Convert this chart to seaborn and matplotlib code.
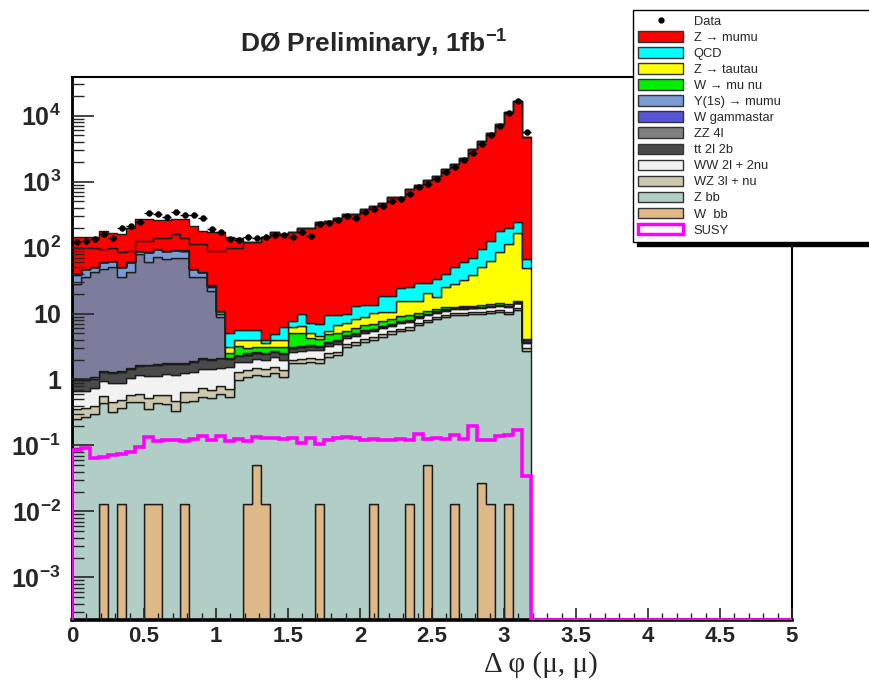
import numpy as np
import pandas as pd
import matplotlib.pyplot as plt
import seaborn as sns
from matplotlib.patches import Patch
from matplotlib.lines import Line2D
from matplotlib.ticker import FixedLocator, MultipleLocator, FuncFormatter, NullFormatter

sns.set_style("ticks")
plt.rcParams['font.family'] = ['Liberation Sans', 'DejaVu Sans']

# ---- data (51 bins of width 0.0625 from 0 to 3.1875) ----
bin_width = 0.0625
n_bins = 51

data = [120, 126, 135, 160, 140, 198, 214, 248, 330, 322, 294, 340, 315, 310, 276, 190, 170,
        135, 130, 143, 140, 146, 155, 155, 143, 170, 151, 227, 232, 264, 303, 276, 348, 382,
        428, 500, 550, 643, 830, 930, 1100, 1400, 1660, 2100, 2750, 3650, 5150, 6900, 11000,
        16800, 5600]

# Z -> mumu is drawn in two red pieces (an extra low-dphi piece on top)
zmumu_extra = [47, 47, 47, 81, 70, 75, 111, 143, 143, 121, 121, 110, 131, 101, 67, 81, 81, 46, 40,
               0, 0, 0, 0, 0, 0, 0, 0, 0, 0, 0, 0, 0, 0, 0, 0, 0, 0, 0, 0, 0, 0, 0, 0, 0, 0, 0,
               0, 0, 0, 0, 0]
zmumu = [59.5, 52.5, 48.5, 34.5, 34.5, 34.5, 29.5, 36.5, 41.5, 43.5, 50.5, 67.5, 48.5, 64.4, 70.2,
         62.3, 79, 95, 94.5, 114, 114, 142, 170, 157, 162, 187, 190, 233, 244, 276, 317, 313, 368,
         414, 461, 556, 560, 740, 861, 1046, 1176, 1491, 1770, 2230, 3011, 4005, 5374, 7270,
         11000, 16150, 4633]
qcd = [0.1, 0.1, 0.1, 0.1, 0.1, 0.1, 0.1, 0.1, 0.1, 0.1, 0.1, 0.1, 0.1, 0.1, 0.1, 0.1, 0.1,
       1.9, 1.55, 1.6, 1.7, 0.4, 1.0, 2.3, 1.5, 3.6, 2.2, 2.4, 4.1, 2.8, 2.6, 4.9, 4.3, 3.4, 7.6,
       7.6, 9.2, 9.2, 13.4, 8.8, 15.8, 14, 22, 28.4, 31.3, 45, 63, 95, 87, 84, 18]
ztautau = [0.05, 0.05, 0.05, 0.05, 0.05, 0.05, 0.05, 0.05, 0.05, 0.05, 0.05, 0.05, 0.05, 0.05,
           0.05, 0.05, 0.05, 0.6, 0.8, 1.0, 0.9, 0.5, 0.8, 0.8, 1.2, 1.3, 0.8, 0.6, 0.7, 1.6, 1.7,
           2.2, 2.4, 3.2, 2.9, 2.5, 6.4, 6.0, 5.5, 9.4, 6.3, 12.7, 15.5, 18.7, 24.7, 36.6, 49.2,
           70.7, 99.3, 148.7, 44.8]
wmunu = [0.3, 0.3, 0.3, 0.3, 0.3, 0.3, 0.3, 0.4, 0.4, 0.4, 0.4, 0.4, 0.4, 0.5, 0.6, 1.5, 0.8,
         0.4, 0.8, 0.5, 0.5, 0.6, 0.45, 0.6, 2.0, 1.9, 0.9, 0.8, 1.1, 1.1, 0.6, 1.0, 1.0, 1.2, 1.2,
         1.1, 1.5, 1.5, 1.0, 0.8, 0.8, 0.8, 0.5, 0.5, 0.5, 0.8, 0.8, 0.6, 0.6, 0.6, 0.2]
y1s = [11, 11, 8, 13, 12, 15, 18, 10, 25, 24, 21, 23, 21, 12, 6, 3, 1,
       0, 0, 0, 0, 0, 0, 0, 0, 0, 0, 0, 0, 0, 0, 0, 0, 0, 0, 0, 0, 0, 0, 0, 0, 0, 0, 0, 0, 0,
       0, 0, 0, 0, 0]
wgamma = [27, 34.5, 41, 46, 48.7, 34, 40.5, 78, 58, 69, 65, 67, 67, 33.6, 34, 20, 6.8,
          0.02, 0.03, 0.15, 0.03, 0.03, 0.03, 0.03, 0.03, 0.03, 0.03, 0.03, 0.03, 0.03, 0.03,
          0.03, 0.03, 0.03, 0.03, 0.03, 0.05, 0.05, 0.05, 0.05, 0.05, 0.05, 0.1, 0.2, 0.2, 0.05,
          0.05, 0.2, 0.2, 0.1, 0.25]
zz = [0.05, 0.04, 0.05, 0.05, 0.06, 0.05, 0.05, 0.05, 0.05, 0.06, 0.05, 0.05, 0.05, 0.05, 0.06,
      0.05, 0.05, 0.05, 0.06, 0.06, 0.06, 0.06, 0.06, 0.06, 0.06, 0.06, 0.06, 0.06, 0.06, 0.06,
      0.06, 0.06, 0.06, 0.06, 0.06, 0.06, 0.1, 0.1, 0.1, 0.1, 0.1, 0.1, 0.1, 0.1, 0.1, 0.1, 0.1,
      0.1, 0.1, 0.1, 0.05]
tt = [0.30, 0.30, 0.28, 0.35, 0.35, 0.40, 0.40, 0.45, 0.50, 0.55, 0.50, 0.55, 0.50, 0.55, 0.60,
      0.55, 0.60, 0.55, 0.45, 0.45, 0.45, 0.45, 0.45, 0.45, 0.40, 0.40, 0.40, 0.40, 0.40, 0.40,
      0.40, 0.40, 0.40, 0.40, 0.40, 0.40, 0.40, 0.40, 0.40, 0.35, 0.35, 0.35, 0.35, 0.35, 0.30,
      0.30, 0.30, 0.30, 0.30, 0.30, 0.10]
ww = [0.32, 0.30, 0.35, 0.40, 0.45, 0.40, 0.45, 0.55, 0.60, 0.55, 0.65, 0.70, 0.60, 0.65, 0.70,
      0.75, 0.70, 0.80, 0.55, 0.50, 0.55, 0.55, 0.60, 0.60, 0.60, 0.65, 0.70, 0.70, 0.75, 0.80,
      0.85, 0.90, 1.0, 1.0, 1.1, 1.2, 1.2, 1.3, 1.3, 1.4, 1.4, 1.5, 1.5, 1.6, 1.6, 1.7, 1.7,
      1.8, 1.8, 1.9, 0.6]
wz = [0.11, 0.10, 0.10, 0.12, 0.13, 0.12, 0.14, 0.15, 0.18, 0.15, 0.16, 0.15, 0.18, 0.17, 0.20,
      0.18, 0.20, 0.18, 0.30, 0.28, 0.30, 0.30, 0.32, 0.30, 0.22, 0.25, 0.25, 0.25, 0.28, 0.30,
      0.35, 0.35, 0.40, 0.40, 0.45, 0.50, 0.5, 0.55, 0.6, 0.6, 0.65, 0.7, 0.7, 0.75, 0.7, 0.8,
      0.8, 0.8, 0.9, 0.9, 0.25]
zbb = [0.25, 0.27, 0.30, 0.42, 0.32, 0.36, 0.45, 0.45, 0.34, 0.42, 0.42, 0.33, 0.45, 0.47, 0.55,
       0.52, 0.60, 0.55, 0.99, 1.08, 1.13, 1.13, 1.24, 1.08, 1.75, 1.79, 1.86, 1.79, 2.2, 2.34,
       3.1, 3.3, 3.7, 3.94, 4.4, 4.85, 5.4, 5.7, 6.6, 7.4, 8.2, 8.9, 9.4, 9.5, 9.7, 9.7, 10.1,
       10.5, 9.8, 11.4, 2.7]
wbb = [0, 0, 0, 0.0128, 0, 0.0128, 0, 0, 0.0128, 0.0128, 0, 0, 0.0128, 0, 0, 0, 0, 0, 0, 0.0128,
       0.051, 0.0128, 0, 0, 0, 0, 0, 0.0128, 0, 0, 0, 0, 0, 0.0128, 0, 0, 0, 0.0128, 0, 0.051,
       0, 0, 0.0128, 0, 0, 0.027, 0.0128, 0, 0.0128, 0, 0]
susy = [0.085, 0.09, 0.065, 0.068, 0.072, 0.075, 0.08, 0.095, 0.135, 0.115, 0.12, 0.12, 0.115,
        0.125, 0.14, 0.12, 0.14, 0.115, 0.125, 0.115, 0.135, 0.13, 0.13, 0.125, 0.13, 0.11, 0.13,
        0.105, 0.12, 0.13, 0.135, 0.13, 0.12, 0.125, 0.12, 0.12, 0.125, 0.12, 0.15, 0.125, 0.13,
        0.125, 0.145, 0.125, 0.2, 0.12, 0.12, 0.14, 0.145, 0.17, 0.035]

# top of stack first
samples = ["Z → mumu extra", "Z → mumu", "QCD", "Z → tautau", "W → mu nu", "Y(1s) → mumu",
           "W gammastar", "ZZ 4l", "tt 2l 2b", "WW 2l + 2nu", "WZ 3l + nu", "Z bb", "W  bb"]
values = [zmumu_extra, zmumu, qcd, ztautau, wmunu, y1s, wgamma, zz, tt, ww, wz, zbb, wbb]
fill_colors = ["#ff0000", "#ff0000", "#00ffff", "#ffff00", "#00ee00", "#7a9bd3", "#7c7c9c",
               "#808080", "#4a4a4a", "#f2f2f2", "#cdc8ad", "#b0cec6", "#deb887"]
legend_colors = ["#ff0000", "#00ffff", "#ffff00", "#00ee00", "#7a9bd3", "#5656d6",
                 "#808080", "#4a4a4a", "#f2f2f2", "#cdc8ad", "#b0cec6", "#deb887"]

edges = np.arange(n_bins + 1) * bin_width
centers = edges[:-1] + bin_width / 2
y_lo, y_hi = 2.26e-4, 3.85e4

df = pd.concat([pd.DataFrame({"dphi": centers, "w": v, "sample": s})
                for s, v in zip(samples, values)], ignore_index=True)

fig = plt.figure(figsize=(8.69, 6.8), dpi=100)
ax = fig.add_axes([72 / 869, 1 - 620 / 680, 720 / 869, 543 / 680])
ax.set_yscale("log")

sns.histplot(data=df, x="dphi", weights="w", hue="sample", hue_order=samples,
             palette=dict(zip(samples, fill_colors)), multiple="stack", bins=list(edges),
             element="step", fill=True, alpha=1, edgecolor="#1c1c1c", linewidth=1.0,
             legend=False, ax=ax)

# SUSY signal, empty bins up to 5 sit on the floor of the plot
susy_all = np.concatenate([susy, np.zeros(80 - n_bins)])
edges_all = np.arange(81) * bin_width
ax.stairs(np.clip(susy_all, y_lo, None), edges_all, color="#ff00ff", lw=2.6, zorder=5)

# data points
ax.errorbar(centers, data, xerr=bin_width / 2, yerr=np.sqrt(data), fmt="none",
            ecolor="black", elinewidth=1.0, zorder=6)
sns.scatterplot(x=centers, y=data, color="black", s=18, edgecolor="black", zorder=7, ax=ax)

ax.set_xlim(0, 5)
ax.set_ylim(y_lo, y_hi)
ax.set_xlabel("")
ax.set_ylabel("")

ax.xaxis.set_major_locator(MultipleLocator(0.5))
ax.xaxis.set_minor_locator(MultipleLocator(0.1))
ax.xaxis.set_major_formatter(FuncFormatter(lambda v, p: "%g" % v))


def ylab(v, pos):
    e = int(round(np.log10(v)))
    if e == 0:
        return "1"
    if e == 1:
        return "10"
    return r"$\mathregular{10^{%d}}$" % e


ax.yaxis.set_major_locator(FixedLocator([10.0 ** e for e in range(-3, 5)]))
ax.yaxis.set_minor_locator(FixedLocator([m * 10.0 ** e for e in range(-4, 5)
                                         for m in range(2, 10)]))
ax.yaxis.set_major_formatter(FuncFormatter(ylab))
ax.yaxis.set_minor_formatter(NullFormatter())

ax.tick_params(axis="x", which="major", direction="in", length=9, width=1.2, pad=4,
               labelsize=16, top=False)
ax.tick_params(axis="x", which="minor", direction="in", length=5, width=1.0, top=False)
ax.tick_params(axis="y", which="major", direction="in", length=16, width=1.2, pad=8,
               labelsize=18, right=False)
ax.tick_params(axis="y", which="minor", direction="in", length=8.5, width=1.0, right=False)
for lab in ax.get_xticklabels() + ax.get_yticklabels():
    lab.set_fontweight("bold")

for side, lw in [("left", 2.0), ("bottom", 2.6), ("top", 1.5), ("right", 1.5)]:
    ax.spines[side].set_visible(True)
    ax.spines[side].set_linewidth(lw)
    ax.spines[side].set_color("black")
ax.set_axisbelow(False)

fig.text(374 / 869, 1 - 44 / 680, r"DØ Preliminary, 1fb$\mathregular{^{-1}}$",
         fontsize=19, fontweight="bold", ha="center", va="center")
fig.text(541 / 869, 1 - 665 / 680, "Δ φ (μ, μ)", fontsize=21, ha="center", va="center",
         family=["Liberation Serif", "DejaVu Serif"])

# legend
handles = [Line2D([], [], marker="o", color="black", lw=0, markersize=3.5)]
labels = ["Data"]
for lab, col in zip(samples[1:], legend_colors):
    handles.append(Patch(facecolor=col, edgecolor="#333333", lw=1.0))
    labels.append(lab)
handles.append(Patch(facecolor="white", edgecolor="#ff00ff", lw=2.5))
labels.append("SUSY")

leg = fig.legend(handles, labels, loc="upper left",
                 bbox_to_anchor=(633 / 869, 1 - 10 / 680, 0.3, 0), mode="expand",
                 fontsize=9.3, frameon=True, fancybox=False, framealpha=1,
                 edgecolor="black", facecolor="white", borderaxespad=0,
                 handlelength=3.5, handleheight=0.9, handletextpad=0.8,
                 labelspacing=0.25, borderpad=0.4,
                 shadow={"ox": 3, "oy": -3, "color": "black", "alpha": 1.0})
leg.get_frame().set_linewidth(1.0)
leg.set_zorder(20)

fig.savefig("out.png", dpi=100)
